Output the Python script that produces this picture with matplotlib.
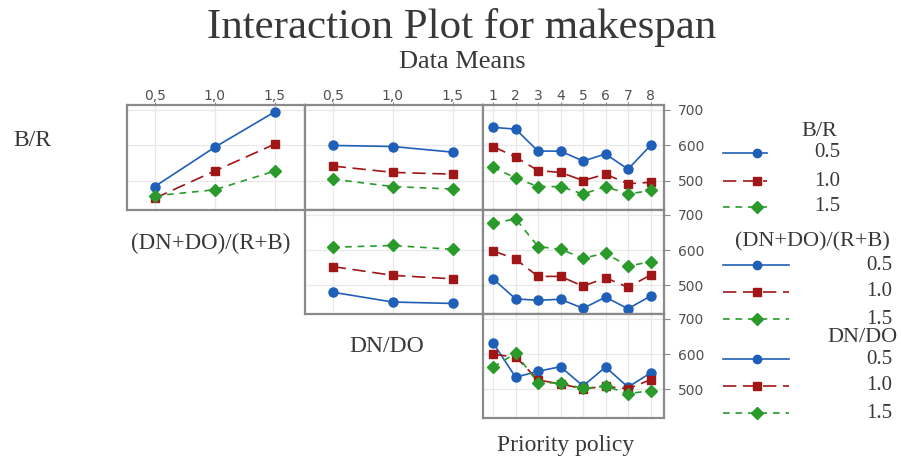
import matplotlib
matplotlib.use("Agg")
import matplotlib.pyplot as plt
from matplotlib.lines import Line2D

# factor levels
ratio_levels = [0.5, 1.0, 1.5]
ratio_ticklabels = ["0,5", "1,0", "1,5"]
policies = [1, 2, 3, 4, 5, 6, 7, 8]
legend_levels = ["0.5", "1.0", "1.5"]
y_ticks = [500, 600, 700]

# means, one list per level of the row factor
# row 1: lines = B/R
br_vs_dndo_rb = [[484, 595, 695], [451, 528, 604], [458, 475, 528]]
br_vs_dndo = [[600, 597, 581], [542, 524, 519], [505, 484, 477]]
br_vs_policy = [[651, 646, 584, 584, 556, 576, 533, 600],
                [597, 567, 529, 524, 501, 519, 492, 496],
                [539, 508, 484, 484, 463, 484, 463, 473]]
# row 2: lines = (DN+DO)/(R+B)
dndo_rb_vs_dndo = [[480, 452, 448], [553, 528, 518], [608, 613, 602]]
dndo_rb_vs_policy = [[518, 461, 457, 460, 434, 466, 433, 469],
                     [598, 574, 525, 525, 497, 521, 494, 529],
                     [676, 689, 610, 602, 577, 591, 554, 567]]
# row 3: lines = DN/DO
dndo_vs_policy = [[632, 534, 551, 564, 509, 563, 506, 546],
                  [599, 592, 526, 515, 501, 508, 501, 527],
                  [563, 602, 518, 518, 502, 509, 487, 496]]

colors = ["#1f5fb8", "#a01515", "#2a9a2a"]
markers = ["o", "s", "D"]
msizes = [6.5, 6, 6.5]
dashes = [None, (8, 4), (4, 3.5)]

W, H = 901, 459
TXT = "#383838"
SERIF = "Liberation Serif"

fig = plt.figure(figsize=(W / 100, H / 100), dpi=100)


def px(x, y):
    return x / W, 1 - y / H


def panel(x0, x1, y0, y1):
    return fig.add_axes([x0 / W, 1 - y1 / H, (x1 - x0) / W, (y1 - y0) / H])


cols = [(127, 305), (305, 483), (483, 664)]
rows = [(105, 210), (210, 314), (314, 418)]

panels = [
    (0, 0, ratio_levels, br_vs_dndo_rb),
    (0, 1, ratio_levels, br_vs_dndo),
    (0, 2, policies, br_vs_policy),
    (1, 1, ratio_levels, dndo_rb_vs_dndo),
    (1, 2, policies, dndo_rb_vs_policy),
    (2, 2, policies, dndo_vs_policy),
]

for r, c, xs, series in panels:
    ax = panel(cols[c][0], cols[c][1], rows[r][0], rows[r][1])
    for i, ys in enumerate(series):
        ln, = ax.plot(xs, ys, color=colors[i], marker=markers[i], markersize=msizes[i],
                      lw=1.2, zorder=3)
        if dashes[i]:
            ln.set_dashes(dashes[i])
    ax.set_ylim(418, 714)
    ax.set_yticks(y_ticks)
    if c == 2:
        ax.set_xlim(0.55, 8.6)
        ax.set_xticks(policies)
        ax.set_xticklabels([str(p) for p in policies])
    else:
        ax.set_xlim(0.27, 1.75)
        ax.set_xticks(ratio_levels)
        ax.set_xticklabels(ratio_ticklabels)
    ax.grid(True, color="#e8e8e8", lw=0.9, zorder=0)
    for s in ax.spines.values():
        s.set_color("#8a8a8a")
        s.set_linewidth(1.6)
    ax.tick_params(axis="x", bottom=False, labelbottom=False, top=(r == 0), labeltop=(r == 0),
                   length=2.5, color="#8a8a8a", labelcolor="#505050", labelsize=10, pad=-1)
    ax.tick_params(axis="y", left=False, labelleft=False, right=(c == 2), labelright=(c == 2),
                   length=4, color="#8a8a8a", labelcolor="#505050", labelsize=10, pad=6)

# titles and factor labels
fig.text(*px(462, 38), "Interaction Plot for makespan", ha="center", va="baseline",
         fontsize=31, family=SERIF, color=TXT)
fig.text(*px(462, 68), "Data Means", ha="center", va="baseline",
         fontsize=19, family=SERIF, color=TXT)
fig.text(*px(32, 141), "B/R", ha="center", va="center", fontsize=17, family=SERIF, color=TXT)
fig.text(*px(211, 243), "(DN+DO)/(R+B)", ha="center", va="center", fontsize=16.5, family=SERIF, color=TXT)
fig.text(*px(387, 347), "DN/DO", ha="center", va="center", fontsize=17, family=SERIF, color=TXT)
fig.text(*px(566, 446), "Priority policy", ha="center", va="center", fontsize=17, family=SERIF, color=TXT)

# legends, one per row
legends = [
    ("B/R", (819, 132), [153, 181, 207], (723, 767), 827),
    ("(DN+DO)/(R+B)", (812, 242), [265, 292, 319], (723, 789), 879),
    ("DN/DO", (862, 338), [359, 386, 413], (723, 789), 879),
]
for head, hpos, ys, (lx0, lx1), tx in legends:
    fig.text(*px(*hpos), head, ha="center", va="center", fontsize=16, family=SERIF, color=TXT)
    for i, y in enumerate(ys):
        x0, yy = px(lx0, y)
        x1, _ = px(lx1, y)
        xm, _ = px(757, y)
        ln = Line2D([x0, x1], [yy, yy], transform=fig.transFigure, color=colors[i], lw=1.2)
        if dashes[i]:
            ln.set_dashes(dashes[i])
        fig.add_artist(ln)
        fig.add_artist(Line2D([xm], [yy], transform=fig.transFigure, color=colors[i],
                              marker=markers[i], markersize=msizes[i] - 0.5, lw=0))
        fig.text(*px(tx, y), legend_levels[i], ha="center", va="center", fontsize=15,
                 family=SERIF, color=TXT)

fig.savefig("out.png", dpi=100, facecolor="white")
